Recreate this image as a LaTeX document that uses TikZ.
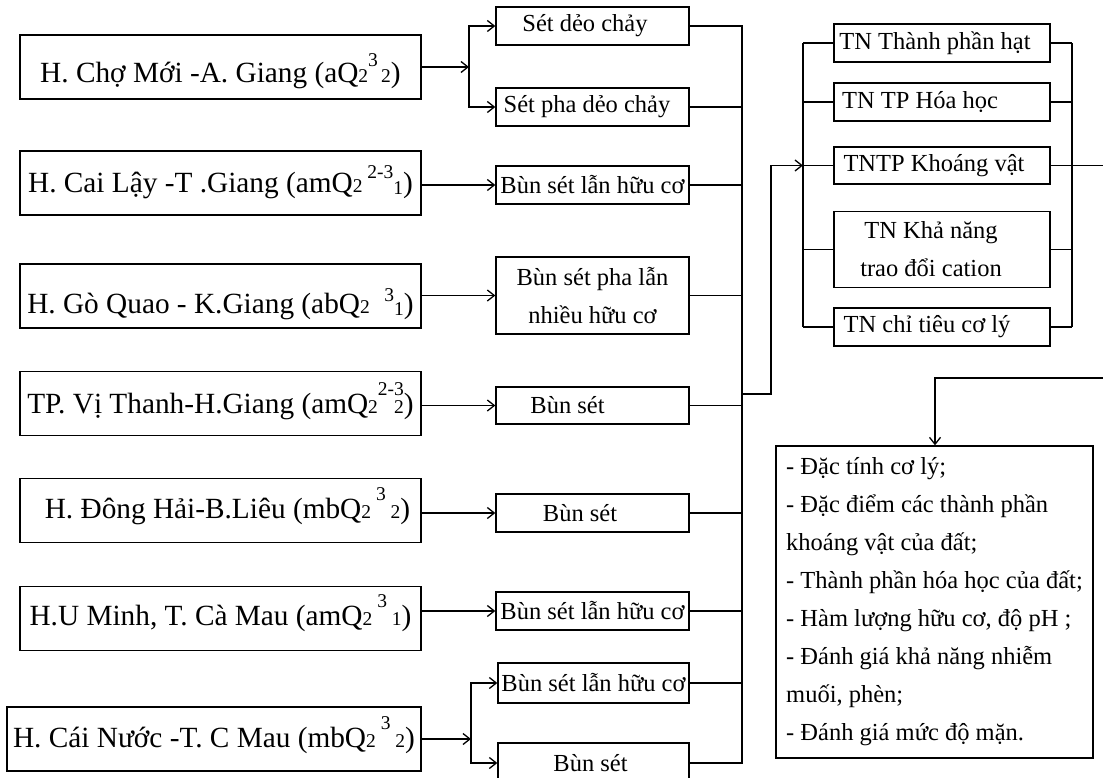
\documentclass[tikz,border=0pt]{standalone}
\usepackage{fontspec}
\setmainfont{Liberation Serif}
\usetikzlibrary{arrows.meta}
\newcommand\lo[1]{{\fontsize{19.5}{19.5}\selectfont #1}}
\newcommand\hi[2]{\raisebox{#1}{\fontsize{19.5}{19.5}\selectfont #2}}
\newcommand\shft[2]{\makebox[0pt]{\hspace*{#1}#2}}
\begin{document}
\begin{tikzpicture}[x=1pt,y=-1pt,
  line width=1.3pt,
  lbox/.style={draw, inner sep=0pt, minimum width=401pt, minimum height=64pt,
    text depth=0pt, font=\fontsize{29.3}{34}\selectfont},
  mbox/.style={draw, inner sep=0pt, minimum width=193pt, minimum height=38pt,
    align=center, font=\fontsize{24.5}{38}\selectfont},
  tbox/.style={draw, inner sep=0pt, minimum width=216pt, minimum height=38pt,
    align=center, font=\fontsize{24.5}{38}\selectfont},
  bigbox/.style={draw, inner xsep=8.5pt, inner ysep=0pt, minimum width=317pt,
    minimum height=312pt, align=left, font=\fontsize{24.5}{38}\selectfont},
  arr/.style={-{Straight Barb[length=7pt,width=11pt]}}]
\path[fill=white] (0,0) rectangle (1103,778);
\useasboundingbox (0,0) rectangle (1103,778);

% left boxes
\node[lbox, text height=32pt] (L1) at (220.5,67) {H. Chợ Mới -A. Giang (aQ\lo{2}\hi{16pt}{3}\lo{\,2})};
\node[lbox, text height=20pt] (L2) at (220.5,183) {H. Cai Lậy -T .Giang (amQ\lo{2}\,\hi{14pt}{2-3}\raisebox{-2pt}{\lo{1}})};
\node[lbox, text height=34pt] (L3) at (220.5,296) {H. Gò Quao - K.Giang (abQ\lo{2}\ \ \hi{12pt}{3}\raisebox{-2pt}{\lo{1}})};
\node[lbox, text height=19pt] (L4) at (220.5,403.5) {TP. Vị Thanh-H.Giang (amQ\lo{2}\hi{18pt}{2-3}\llap{\lo{2}})};
\node[lbox, text height=15pt] (L5) at (220.5,510.5) {\shft{14pt}{H. Đông Hải-B.Liêu (mbQ\lo{2}\,\hi{18pt}{3}\,\lo{2})}};
\node[lbox, text height=13pt] (L6) at (220.5,618.5) {H.U Minh, T. Cà Mau (amQ\lo{2}\,\hi{18pt}{3}\,\lo{1})};
\node[lbox, text height=16pt, minimum width=414pt] (L7) at (214,739) {H. Cái Nước -T. C Mau (mbQ\lo{2}\,\hi{18pt}{3}\,\lo{2})};

% middle boxes
\node[mbox] (M1a) at (592.5,26) {\shft{-15pt}{Sét dẻo chảy}};
\node[mbox] (M1b) at (592.5,107) {\shft{-11pt}{Sét pha dẻo chảy}};
\node[mbox] (M2) at (592.5,185) {Bùn sét lẫn hữu cơ};
\node[mbox, minimum height=77pt] (M3) at (592.5,295.5) {Bùn sét pha lẫn\\nhiều hữu cơ};
\node[mbox, minimum height=37pt] (M4) at (592.5,405.5) {\shft{-50pt}{Bùn sét}};
\node[mbox] (M5) at (592.5,513) {\shft{-25pt}{Bùn sét}};
\node[mbox] (M6) at (592.5,611) {Bùn sét lẫn hữu cơ};
\node[mbox, minimum width=191pt, minimum height=40pt] (M7a) at (593.5,683) {Bùn sét lẫn hữu cơ};
\node[mbox, minimum width=191pt, minimum height=40pt] (M7b) at (593.5,763) {\shft{-6pt}{Bùn sét}};

% test boxes
\node[tbox] (T1) at (942,43) {\shft{-14pt}{TN Thành phần hạt}};
\node[tbox] (T2) at (942,102) {\shft{-44pt}{TN TP Hóa học}};
\node[tbox, minimum height=37pt] (T3) at (942,165.5) {\shft{-16pt}{TNTP Khoáng vật}};
\node[tbox, minimum height=73pt] (T4) at (942,249.5) {\shft{-22pt}{\begin{tabular}{@{}c@{}}TN Khả năng\\trao đổi cation\end{tabular}}};
\node[tbox] (T5) at (942,327) {\shft{-30pt}{TN chỉ tiêu cơ lý}};

% result box
\node[bigbox] (R) at (934.5,602) {- Đặc tính cơ lý;\\
- Đặc điểm các thành phần\\
khoáng vật của đất;\\
- Thành phần hóa học của đất;\\
- Hàm lượng hữu cơ, độ pH ;\\
- Đánh giá khả năng nhiễm\\
muối, phèn;\\
- Đánh giá mức độ mặn.};

% helper coordinates
\coordinate (J1) at (469,67);
\coordinate (J7) at (471,739);
\coordinate (bus) at (742,0);
\coordinate (K1) at (742,394);
\coordinate (K2) at (771,394);
\coordinate (tl) at (803,0);
\coordinate (tr) at (1072,0);
\coordinate (E1) at (1103,165.5);
\coordinate (E2) at (1103,378);
\coordinate (E3) at (935,378);

% left to middle
\draw[arr] (L1.east) -- (J1);
\draw[arr] (J1) |- (M1a.west);
\draw[arr] (J1) |- (M1b.west);
\draw[arr] (L2.east |- M2.west) -- (M2.west);
\draw[arr] (L3.east |- M3.west) -- (M3.west);
\draw[arr] (L4.east |- M4.west) -- (M4.west);
\draw[arr] (L5.east |- M5.west) -- (M5.west);
\draw[arr] (L6.east |- M6.west) -- (M6.west);
\draw[arr] (L7.east) -- (J7);
\draw[arr] (J7) |- (M7a.west);
\draw[arr] (J7) |- (M7b.west);

% middle to bus
\draw (M1a.east) -- (M1a.east -| bus) -- (M7b.east -| bus) -- (M7b.east);
\foreach \m in {M1b,M2,M3,M4,M5,M6,M7a} \draw (\m.east) -- (\m.east -| bus);

% bus to tests
\draw[arr] (K1) -- (K2) |- (tl |- T3.west);
\draw (tl |- T1.west) -- (tl |- T5.west);
\foreach \t in {T1,T2,T3,T4,T5} \draw (tl |- \t.west) -- (\t.west);
\draw (tr |- T1.east) -- (tr |- T5.east);
\foreach \t in {T1,T2,T4,T5} \draw (\t.east) -- (tr |- \t.east);
\draw (T3.east) -- (E1);

% to result
\draw[arr] (E2) -- (E3) -- (E3 |- R.north);
\end{tikzpicture}
\end{document}
